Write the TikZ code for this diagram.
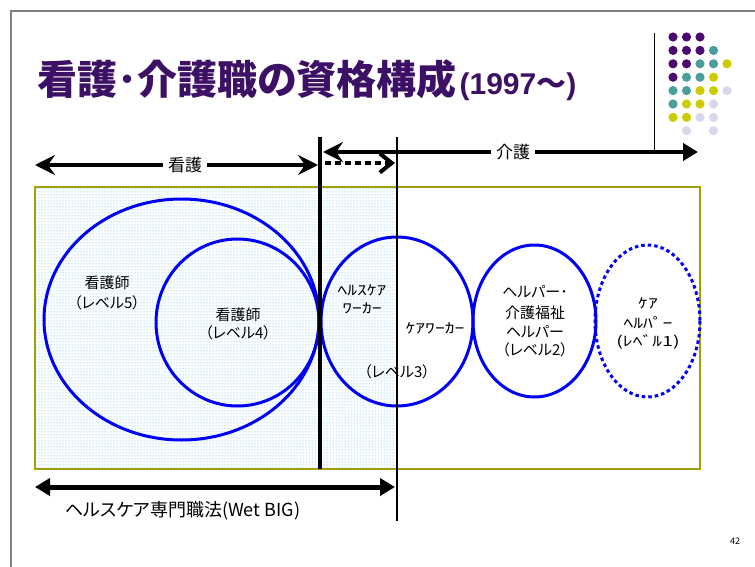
\documentclass[tikz,border=0pt]{standalone}
\usepackage{fontspec}
\setmainfont{Noto Sans CJK JP}[RawFeature={+palt}]
\newfontfamily\hwk{Noto Sans CJK JP}[FakeStretch=1.4]
\newfontfamily\arialb{Liberation Sans}
\newfontfamily\cjkplain{Noto Sans CJK JP}
\usetikzlibrary{arrows.meta,patterns}
\definecolor{ttl}{RGB}{60,16,100}
\definecolor{dpur}{RGB}{75,10,110}
\definecolor{tealc}{RGB}{74,158,155}
\definecolor{ylw}{RGB}{204,204,0}
\definecolor{lav}{RGB}{216,216,236}
\definecolor{olv}{RGB}{160,160,0}
\definecolor{bl}{RGB}{0,0,245}
\definecolor{dotc}{RGB}{60,180,245}
\tikzset{
  stl/.tip={Stealth[length=20pt,width=20pt,inset=7pt]},
  tri/.tip={Triangle[length=15pt,width=17pt]},
  lvl/.style={draw=bl,line width=3pt},
  lbl/.style={inner sep=0pt,align=center},
  arrlbl/.style={fill=white,inner xsep=5pt,inner ysep=1pt,font=\fontsize{17}{17}\selectfont}
}
\begin{document}
\begin{tikzpicture}[x=1pt,y=-1pt]
\useasboundingbox (0,0) rectangle (755,567);
% slide frame
\draw[gray,line width=1.3pt] (11,567) -- (11,11) -- (755,11);
% decoration
\draw[black,line width=1pt] (654,33) -- (654,153);
\foreach \cx/\cy/\cc in {1/1/dpur,2/1/dpur,3/1/dpur,
  1/2/dpur,2/2/dpur,3/2/dpur,4/2/tealc,
  1/3/dpur,2/3/dpur,3/3/tealc,4/3/tealc,5/3/ylw,
  1/4/dpur,2/4/tealc,3/4/tealc,4/4/ylw,
  1/5/tealc,2/5/tealc,3/5/ylw,4/5/ylw,5/5/lav,
  1/6/tealc,2/6/ylw,3/6/ylw,4/6/lav,
  1/7/ylw,2/7/ylw,3/7/lav,4/7/lav,
  2/8/lav,4/8/lav}
  \fill[\cc] ({673+(\cx-1)*13.5},{37+(\cy-1)*13.4}) circle (4.6);
% title
\node[anchor=base west,text=ttl,inner sep=0pt] (title) at (37,95)
  {\fontsize{40}{40}\selectfont\bfseries 看護･介護職の資格構成\kern3pt\fontsize{30}{30}\selectfont{\arialb\bfseries (1997}～{\arialb\bfseries )}};
% box
\fill[pattern=dots,pattern color=dotc] (35,187) rectangle (397,469);
\draw[olv,line width=2pt] (35,187) rectangle (700,469);
% ellipses
\draw[lvl] (181.5,319.5) ellipse [x radius=137.5,y radius=120.5];
\draw[lvl] (237.5,322.5) ellipse [x radius=81.5,y radius=83.5];
\draw[lvl] (397,321.5) ellipse [x radius=76,y radius=84.5];
\draw[lvl] (534.5,321) ellipse [x radius=61.5,y radius=76];
\draw[draw=bl,line width=3pt,dash pattern=on 3.5pt off 3pt] (647.5,321) ellipse [x radius=52.5,y radius=76];
% ellipse labels
\node[lbl,font=\fontsize{15}{15}\selectfont] (n5a) at (107,283) {看護師};
\node[lbl,font=\fontsize{15}{15}\selectfont] (n5b) at (107,303) {（レベル5）};
\node[lbl,font=\fontsize{15}{15}\selectfont] (n4a) at (238,315) {看護師};
\node[lbl,font=\fontsize{15}{15}\selectfont] (n4b) at (238,333) {（レベル4）};
\node[lbl,font=\hwk\fontsize{14}{14}\selectfont] (hw1) at (362,290) {ﾍﾙｽｹｱ};
\node[lbl,font=\hwk\fontsize{14}{14}\selectfont] (hw2) at (362,308) {ﾜｰｶｰ};
\node[lbl,font=\hwk\fontsize{14}{14}\selectfont] (cw) at (435,328) {ｹｱﾜｰｶｰ};
\node[lbl,font=\fontsize{15}{15}\selectfont] (n3) at (397,372) {（レベル3）};
\node[lbl,font=\fontsize{15}{15}\selectfont] (h2a) at (535,292) {ヘルパー･};
\node[lbl,font=\fontsize{15}{15}\selectfont] (h2b) at (535,313) {介護福祉};
\node[lbl,font=\fontsize{15}{15}\selectfont] (h2c) at (535,332) {ヘルパー};
\node[lbl,font=\fontsize{15}{15}\selectfont] (h2d) at (535,350) {（レベル2）};
\node[lbl,font=\hwk\fontsize{14}{14}\selectfont] (h1a) at (648,303) {ｹｱ};
\node[lbl,font=\hwk\fontsize{14}{14}\selectfont] (h1b) at (648,323) {ﾍﾙﾊﾟｰ};
\node[lbl,font=\hwk\fontsize{14}{14}\selectfont] (h1c) at (648,342) {(ﾚﾍﾞﾙ1)};
% arrows
\coordinate (kL) at (35,165);
\coordinate (kR) at (318,165);
\draw[line width=4.5pt,stl-stl] (kL) -- (kR);
\node[arrlbl] (kango) at (185,165) {看護};
\coordinate (gL) at (323,152);
\coordinate (gR) at (698,152);
\draw[line width=4.5pt,stl-tri] (gL) -- (gR);
\node[arrlbl] (kaigo) at (513,152) {介護};
\coordinate (dL) at (325,163);
\coordinate (dR) at (395,163);
\draw[line width=4pt,dash pattern=on 6pt off 4pt,-{Straight Barb[length=12pt,width=19pt,line width=4pt]}] (dL) -- (dR);
\coordinate (bL) at (35,487);
\coordinate (bR) at (395,487);
\draw[line width=5pt,tri-tri] (bL) -- (bR);
\node[lbl,font=\fontsize{18}{18}\selectfont,anchor=west] (law) at (65,511) {ヘルスケア専門職法(Wet BIG)};
% vertical lines
\coordinate (v1t) at (320,137);
\coordinate (v1b) at (320,469);
\coordinate (v2t) at (397,137);
\coordinate (v2b) at (397,521);
\draw[line width=3.5pt] (v1t) -- (v1b);
\draw[line width=2.2pt] (v2t) -- (v2b);
% page number
\node[lbl,font=\fontsize{9}{9}\selectfont] (pg) at (735,541) {42};
\end{tikzpicture}
\end{document}
